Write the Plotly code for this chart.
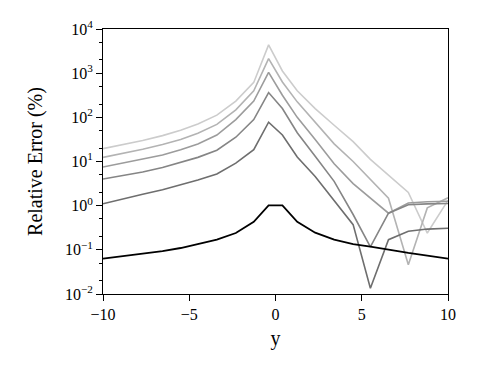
import plotly.graph_objects as go

# x positions of the samples
y_pos = [-10, -8.8, -7.7, -6.55, -5.5, -4.5, -3.4, -2.3, -1.26, -0.4,
         0.4, 1.26, 2.3, 3.4, 4.5, 5.5, 6.55, 7.7, 8.8, 10]

err_0 = [0.063, 0.072, 0.082, 0.094, 0.11, 0.135, 0.17, 0.24, 0.43, 1.02,
         1.02, 0.43, 0.245, 0.17, 0.135, 0.118, 0.1, 0.085, 0.074, 0.063]
err_1 = [1.1, 1.45, 1.82, 2.3, 2.95, 3.8, 5.2, 9.2, 18.6, 77.6,
         39.8, 12.6, 4.57, 1.29, 0.372, 0.0135, 0.17, 0.263, 0.295, 0.309]
err_2 = [4.0, 4.8, 5.8, 7.3, 9.4, 12.4, 18.0, 35.5, 89.1, 363,
         158, 44.7, 13.2, 3.55, 0.631, 0.117, 0.676, 1.05, 1.1, 1.12]
err_3 = [7.5, 9.2, 11.1, 14.0, 18.4, 25.0, 39.8, 89.1, 234, 1047,
         316, 100, 31.6, 8.91, 3.16, 1.51, 0.676, 1.15, 1.23, 1.26]
err_4 = [12.4, 15.3, 18.9, 24.3, 31.6, 43.7, 69.2, 148, 398, 2138,
         631, 224, 79.4, 25.1, 10.0, 3.98, 1.48, 0.0457, 0.891, 1.51]
err_5 = [19.5, 24.0, 29.8, 38.5, 51.0, 70.8, 112, 234, 617, 4365,
         1122, 398, 158, 66.1, 28.2, 11.2, 5.01, 2.0, 0.24, 1.32]

series = [err_5, err_4, err_3, err_2, err_1, err_0]
colors = ["#cccccc", "#b3b3b3", "#9c9c9c", "#858585", "#6e6e6e", "#000000"]
widths = [1.6, 1.6, 1.6, 1.6, 1.6, 1.8]

x_ticks = [-10, -5, 0, 5, 10]
x_ticktext = ["\u221210", "\u22125", "0", "5", "10"]
y_ticks = [1e-2, 1e-1, 1e0, 1e1, 1e2, 1e3, 1e4]
y_ticktext = ["10<sup>\u22122</sup>", "10<sup>\u22121</sup>", "10<sup>0</sup>",
              "10<sup>1</sup>", "10<sup>2</sup>", "10<sup>3</sup>", "10<sup>4</sup>"]

font = "Liberation Serif"
fig = go.Figure()
for s, c, w in zip(series, colors, widths):
    fig.add_trace(go.Scatter(x=y_pos, y=s, mode="lines",
                             line=dict(color=c, width=w), showlegend=False))

fig.update_layout(
    width=480, height=375,
    margin=dict(l=103, r=32, t=29, b=81),
    paper_bgcolor="white", plot_bgcolor="white",
    font=dict(family=font, size=16, color="black"),
)
fig.update_xaxes(
    range=[-10, 10], tickvals=x_ticks, ticktext=x_ticktext,
    tickfont=dict(family=font, size=16),
    showline=True, linecolor="black", linewidth=1, mirror=True,
    ticks="outside", ticklen=6, tickwidth=1, tickcolor="black",
    showgrid=False, zeroline=False,
    title=dict(text="y", font=dict(family=font, size=20), standoff=8),
)
fig.update_yaxes(
    type="log", range=[-2, 4], tickvals=y_ticks, ticktext=y_ticktext,
    tickfont=dict(family=font, size=16),
    showline=True, linecolor="black", linewidth=1, mirror=True,
    ticks="outside", ticklen=6, tickwidth=1, tickcolor="black",
    minor=dict(ticks="outside", ticklen=3, tickcolor="black", showgrid=False),
    showgrid=False, zeroline=False,
    title=dict(text="Relative Error (%)", font=dict(family=font, size=20), standoff=16),
)
fig.write_html("out.html")
